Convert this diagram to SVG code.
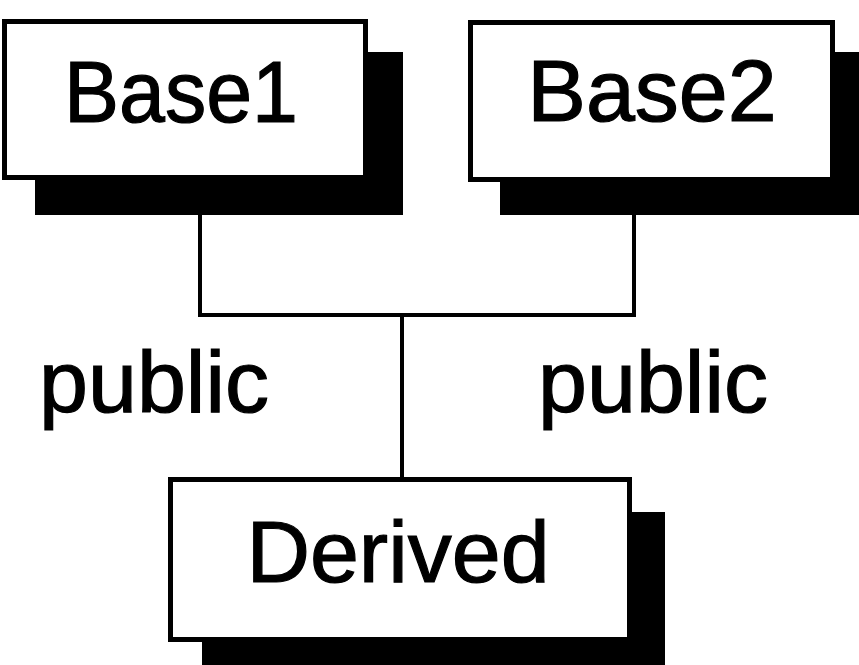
<svg xmlns="http://www.w3.org/2000/svg" width="859" height="665" viewBox="0 0 859 665">
<style>
.box{fill:#fff;stroke:#000;stroke-width:5}
.shadow{fill:#000}
.lbl{font-family:"Liberation Sans",Arial,sans-serif;font-size:88px;fill:#000;stroke:#000;stroke-width:1.2;text-anchor:middle}
.conn{fill:none;stroke:#000;stroke-width:4}
</style>
<rect width="859" height="665" fill="#fff"/>
<g id="connectors">
<polyline class="conn" points="200,212 200,315 634,315 634,212"/>
<line class="conn" x1="402" y1="315" x2="402" y2="478"/>
</g>
<g id="base1">
<rect class="shadow" x="35" y="52" width="368" height="163"/>
<rect class="box" x="4.5" y="21.5" width="361" height="156"/>
<text class="lbl" x="181" y="122" textLength="234" lengthAdjust="spacingAndGlyphs">Base1</text>
</g>
<g id="base2">
<rect class="shadow" x="500" y="52" width="370" height="163"/>
<rect class="box" x="470.5" y="22.5" width="362" height="157"/>
<text class="lbl" x="652" y="121">Base2</text>
</g>
<g id="derived">
<rect class="shadow" x="202" y="512" width="463" height="160"/>
<rect class="box" x="170.5" y="479.5" width="459" height="160"/>
<text class="lbl" x="398" y="582">Derived</text>
</g>
<text class="lbl" x="154" y="412">public</text>
<text class="lbl" x="653" y="412">public</text>
</svg>
